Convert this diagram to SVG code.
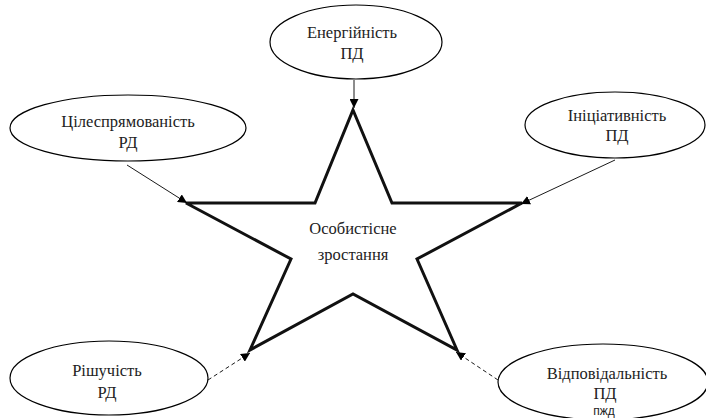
<svg xmlns="http://www.w3.org/2000/svg" width="706" height="418" viewBox="0 0 706 418">
<style>
.node ellipse{fill:#fff;stroke:#000;stroke-width:1.2}
.t{font-size:16.5px;fill:#222;text-anchor:middle}
.sans{font-size:12px;fill:#222;text-anchor:middle}
.conn{stroke:#000;stroke-width:0.9;fill:none}
.dash{stroke-dasharray:4 3}
</style>
<defs>
<marker id="ah" viewBox="0 0 10 10" refX="10" refY="5" markerWidth="9" markerHeight="9" markerUnits="userSpaceOnUse" orient="auto">
<path d="M0,0 L10,5 L0,10 z" fill="#000"/>
</marker>
</defs>
<rect width="706" height="418" fill="#fff"/>
<g font-family="Liberation Serif, Times New Roman, Times, serif">
<g id="star">
<polygon points="353,110 392,203 522,203 417,259 457,350 353,294 250,350 291,259 186,203 315,203" fill="#fff" stroke="#111" stroke-width="3" stroke-linejoin="miter"/>
<text class="t" x="353" y="234">Особистісне</text>
<text class="t" x="353" y="260">зростання</text>
</g>
<g id="connectors">
<line class="conn" x1="354" y1="80" x2="354" y2="108" marker-end="url(#ah)"/>
<line class="conn" x1="127" y1="165" x2="187" y2="203" marker-end="url(#ah)"/>
<line class="conn" x1="615" y1="160" x2="521" y2="204" marker-end="url(#ah)"/>
<line class="conn dash" x1="208" y1="380" x2="250" y2="353" marker-end="url(#ah)"/>
<line class="conn dash" x1="498" y1="380" x2="456" y2="352" marker-end="url(#ah)"/>
</g>
<g id="n-energy" class="node">
<ellipse cx="356" cy="42" rx="86" ry="37"/>
<text class="t" x="352" y="38">Енергійність</text>
<text class="t" x="352" y="59">ПД</text>
</g>
<g id="n-purpose" class="node">
<ellipse cx="128" cy="128" rx="118" ry="33"/>
<text class="t" x="128" y="127">Цілеспрямованість</text>
<text class="t" x="128" y="148">РД</text>
</g>
<g id="n-initiative" class="node">
<ellipse cx="615" cy="125" rx="90" ry="33"/>
<text class="t" x="617" y="121">Ініціативність</text>
<text class="t" x="617" y="141">ПД</text>
</g>
<g id="n-decisive" class="node">
<ellipse cx="109" cy="378" rx="99" ry="37"/>
<text class="t" x="107" y="376">Рішучість</text>
<text class="t" x="107" y="398">РД</text>
</g>
<g id="n-responsible" class="node">
<ellipse cx="603" cy="382" rx="105" ry="38"/>
<text class="t" x="607" y="379">Відповідальність</text>
<text class="t" x="605" y="399">ПД</text>
<text class="sans" font-family="Liberation Sans, Arial, sans-serif" x="604" y="415">пжд</text>
</g>
</g>
</svg>
